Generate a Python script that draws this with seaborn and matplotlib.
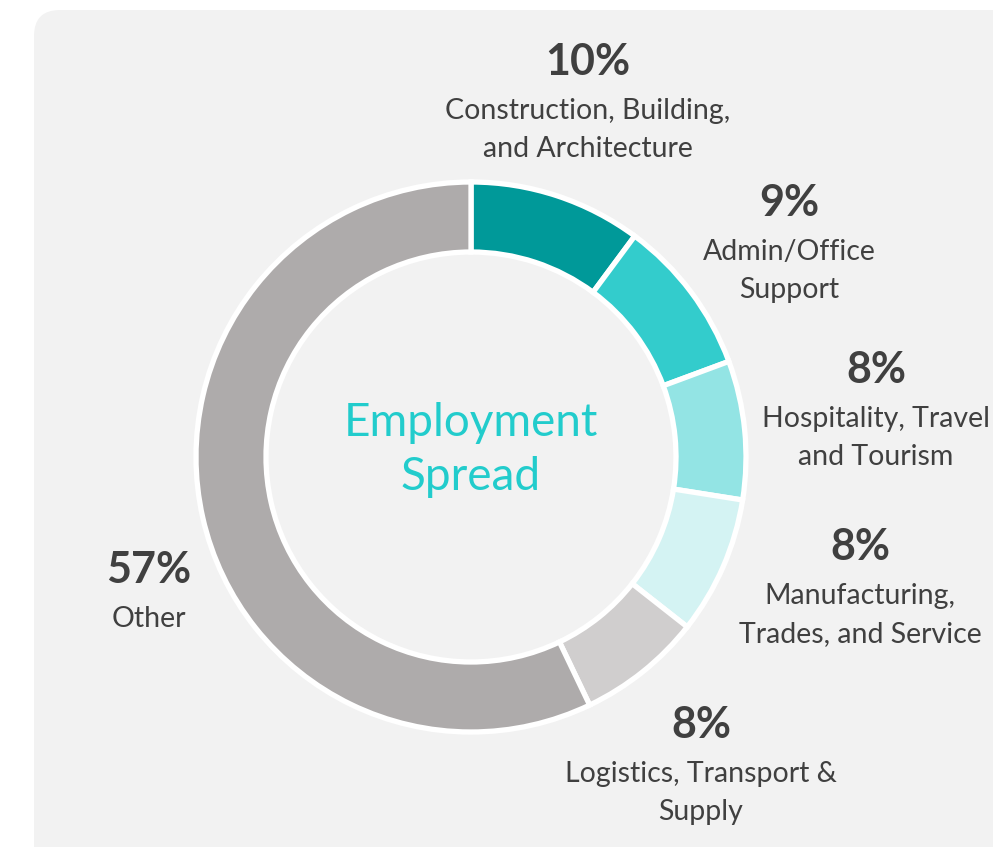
import matplotlib
matplotlib.use("Agg")
import matplotlib.pyplot as plt
from matplotlib.patches import FancyBboxPatch
import seaborn as sns

sectors = [
    "Construction, Building,\nand Architecture",
    "Admin/Office\nSupport",
    "Hospitality, Travel\nand Tourism",
    "Manufacturing,\nTrades, and Service",
    "Logistics, Transport &\nSupply",
    "Other",
]
shares = [10.15, 9.2, 8.15, 8.1, 7.3, 57.1]
pct_labels = ["10%", "9%", "8%", "8%", "8%", "57%"]
colors = ["#009999", "#33CCCC", "#93E4E4", "#D4F3F3", "#D0CECE", "#AEABAB"]

# where each label block sits (pixel space, y from top)
label_pos = [(588, 62), (789, 203), (876, 370), (860, 547), (701, 725), (149, 570)]

sns.set_theme(style="white")
plt.rcParams["font.family"] = ["Lato", "DejaVu Sans"]

W, H = 993, 847
fig = plt.figure(figsize=(W / 100, H / 100), dpi=100)
ax = fig.add_axes([0, 0, 1, 1])

# rounded grey panel behind everything
panel = FancyBboxPatch((34, -40), 1100, 877, boxstyle="round,pad=0,rounding_size=26",
                       facecolor="#F2F2F2", edgecolor="none", zorder=0)
ax.add_patch(panel)

cx, cy, R = 471, H - 457, 275
ax.pie(shares, colors=colors, startangle=90, counterclock=False,
       center=(cx, cy), radius=R,
       wedgeprops=dict(width=70, edgecolor="white", linewidth=3.8, zorder=2))

ax.text(cx, H - 423, "Employment", ha="center", va="center",
        fontsize=33, color="#22CCCC", zorder=3)
ax.text(cx, H - 477, "Spread", ha="center", va="center",
        fontsize=33, color="#22CCCC", zorder=3)

txt = "#404040"
for (x, y), pct, name in zip(label_pos, pct_labels, sectors):
    ax.text(x, H - y, pct, ha="center", va="center", fontsize=31,
            fontweight="bold", color=txt, zorder=3)
    for i, line in enumerate(name.split("\n")):
        ax.text(x, H - (y + 49 + 38 * i), line, ha="center", va="center",
                fontsize=20.5, color=txt, zorder=3)

ax.set_xlim(0, W)
ax.set_ylim(0, H)
ax.set_aspect("equal")
ax.axis("off")

fig.savefig("out.png", dpi=100, facecolor="white")
